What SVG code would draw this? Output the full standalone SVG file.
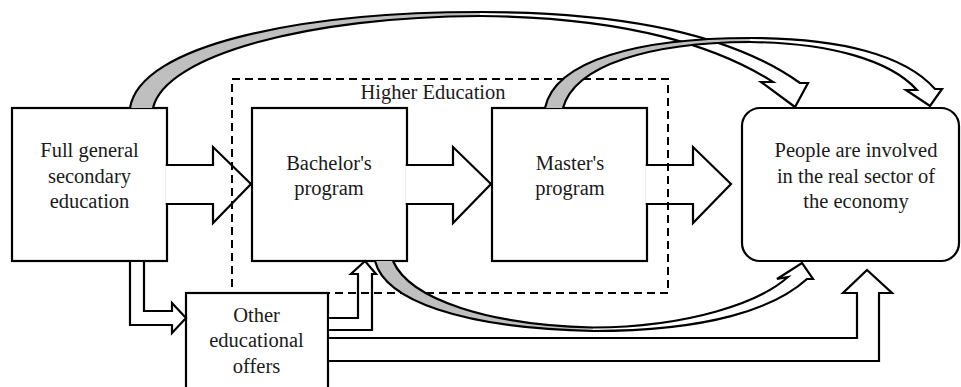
<svg xmlns="http://www.w3.org/2000/svg" width="961" height="387" viewBox="0 0 961 387" font-family="Liberation Serif, Times New Roman, serif">
<style>
.box{fill:#fff;stroke:#000;stroke-width:2.2}
.arr{fill:#fff;stroke:#000;stroke-width:2.2;stroke-linejoin:miter}
.cur{fill:none;stroke:#000;stroke-width:2.2;stroke-linejoin:miter}
.gry{fill:#bfbfbf;stroke:none}
.dash{fill:none;stroke:#000;stroke-width:2;stroke-dasharray:8 5}
.t{font-family:"Liberation Serif","Times New Roman",serif;font-size:20.5px;fill:#1a1a1a;text-anchor:middle}
</style>
<rect width="961" height="387" fill="#fff"/>
<g id="node-full-general">
<rect class="box" x="12" y="108" width="155" height="153"/>
<text class="t" x="89.5" y="157">Full general</text>
<text class="t" x="89.5" y="182.5">secondary</text>
<text class="t" x="89.5" y="208">education</text>
</g>
<g id="node-bachelor">
<rect class="box" x="252" y="108" width="155" height="153"/>
<text class="t" x="329" y="169.5">Bachelor's</text>
<text class="t" x="329" y="194.5">program</text>
</g>
<g id="node-master">
<rect class="box" x="492" y="108" width="155" height="153"/>
<text class="t" x="570" y="170">Master's</text>
<text class="t" x="570" y="194.5">program</text>
</g>
<g id="node-people">
<rect class="box" x="742" y="108" width="217" height="153" rx="18"/>
<text class="t" x="856" y="157">People are involved</text>
<text class="t" x="856" y="182.5">in the real sector of</text>
<text class="t" x="856" y="208">the economy</text>
</g>
<g id="node-other">
<rect class="box" x="186" y="293" width="142" height="110"/>
<text class="t" x="256.5" y="321.5">Other</text>
<text class="t" x="256.5" y="347">educational</text>
<text class="t" x="256.5" y="372.5">offers</text>
</g>
<g id="connectors">
<path class="arr" d="M165.8,165 L213,165 L213,147 L251,184 L213,223 L213,204 L165.8,204"/>
<path class="arr" d="M405.8,165 L453,165 L453,147 L491,184 L453,223 L453,204 L405.8,204"/>
<path class="arr" d="M645.8,165 L693,165 L693,147 L731,184 L693,223 L693,204 L645.8,204"/>
<path class="arr" d="M130,262.1 L130,325 L172,325 L172,333 L186,318 L172,303 L172,311 L144,311 L144,262.1"/>
<path class="arr" d="M329.1,318 L358,318 L358,274 L351,274 L365,261 L376,274 L372,274 L372,330 L329.1,330"/>
<path class="arr" d="M329.1,338 L857,338 L857,293 L843,293 L867,270 L892,293 L879,293 L879,361 L329.1,361"/>
<rect id="higher-education" class="dash" x="232" y="79" width="436" height="214"/>
<text class="t" x="433" y="99">Higher Education</text>
<path class="gry" d="M130,108 C140,45 300,12 480,12 L480,16 C310,16.5 165,55 153,108 Z"/>
<path class="cur" d="M130,108 C140,45 300,12 480,12 C640,12 740,40 800,83 L808,83 L795,107 L761,82 L773,82 C720,48 630,17 480,16 C310,16.5 165,55 153,108"/>
<path class="gry" d="M545,108 C555,60 640,38 750,38 L750,42 C650,42.5 575,65 563,108 Z"/>
<path class="cur" d="M545,108 C555,60 640,38 750,38 C840,38 905,55 935,89 L942,89 L930,106 L906,90 L917,90 C890,60 830,43 750,42 C650,42.5 575,65 563,108"/>
<path class="gry" d="M375,261 C385,300 460,328 593,331 L593,327.5 C490,325 410,300 393,261 Z"/>
<path class="cur" d="M375,261 C385,300 460,328 593,331 C710,331 775,308 807,279 L813,279 L802,263 L777,279 L788,277 C760,302 690,327 593,327.5 C490,325 410,300 393,261"/>
</g>
</svg>
